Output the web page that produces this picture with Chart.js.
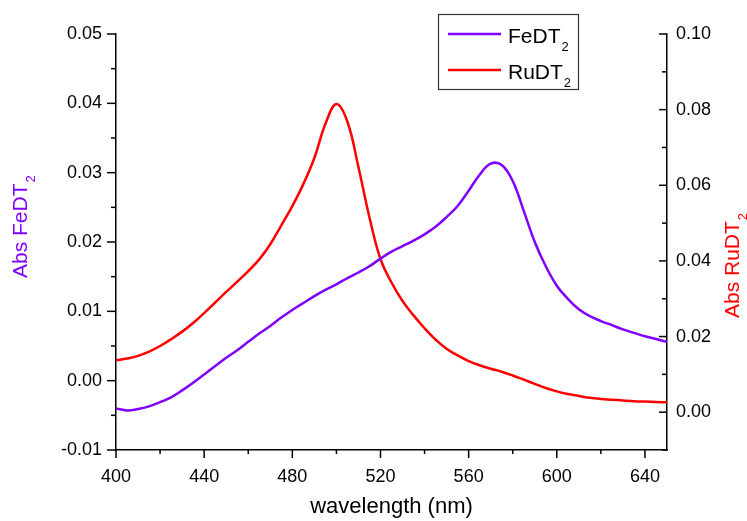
<!DOCTYPE html>
<html>
<head>
    <meta charset="UTF-8">
    <title>FeDT2 / RuDT2 absorbance</title>
    <script src="https://cdn.jsdelivr.net/npm/chart.js@4/dist/chart.umd.min.js"></script>
    <style>
        body { margin: 0; background: #fff; }
        #wrap { width: 747px; height: 521px; }
    </style>
</head>
<body>
<div id="wrap">
    <canvas id="absChart" width="747" height="521"></canvas>
</div>
<script>
    // wavelength grid (nm), every 5 nm
    var wavelengths = [400, 405, 410, 415, 420, 425, 430, 435, 440, 445,
        450, 455, 460, 465, 470, 475, 480, 485, 490, 495,
        500, 505, 510, 515, 520, 525, 530, 535, 540, 545,
        550, 555, 560, 565, 570, 575, 580, 585, 590, 595,
        600, 605, 610, 615, 620, 625, 630, 635, 640, 645, 650];

    // left axis
    var feValues = [-0.0040, -0.0043, -0.0041, -0.0037, -0.0031, -0.0024, -0.0014, -0.0003, 0.0009, 0.0021,
        0.0033, 0.0044, 0.0056, 0.0068, 0.0079, 0.0091, 0.0102, 0.0112, 0.0122, 0.0131,
        0.0139, 0.0148, 0.0156, 0.0165, 0.0176, 0.0186, 0.0194, 0.0202, 0.0211, 0.0222,
        0.0236, 0.0252, 0.0274, 0.0297, 0.0313, 0.0311, 0.0288, 0.0245, 0.0200, 0.0165,
        0.0137, 0.0118, 0.0103, 0.0093, 0.0086, 0.0080, 0.0074, 0.0069, 0.0064, 0.0060, 0.0056];

    // right axis
    var ruValues = [0.0137, 0.0142, 0.0149, 0.0160, 0.0175, 0.0193, 0.0213, 0.0236, 0.0262, 0.0290,
        0.0318, 0.0345, 0.0373, 0.0404, 0.0444, 0.0494, 0.0545, 0.0603, 0.0672, 0.0762,
        0.0815, 0.0768, 0.0648, 0.0515, 0.0405, 0.0343, 0.0294, 0.0256, 0.0222, 0.0192,
        0.0168, 0.0150, 0.0135, 0.0124, 0.0115, 0.0107, 0.0097, 0.0086, 0.0075, 0.0064,
        0.0055, 0.0048, 0.0043, 0.0038, 0.0035, 0.0033, 0.0031, 0.0029, 0.0028, 0.0027, 0.0026];

    var xTicks = [400, 440, 480, 520, 560, 600, 640];
    var xMinorTicks = [420, 460, 500, 540, 580, 620];
    var yLeftTicks = [-0.01, 0.00, 0.01, 0.02, 0.03, 0.04, 0.05];
    var yLeftMinorTicks = [-0.005, 0.005, 0.015, 0.025, 0.035, 0.045];
    var yRightTicks = [0.00, 0.02, 0.04, 0.06, 0.08, 0.10];
    var yRightMinorTicks = [-0.01, 0.01, 0.03, 0.05, 0.07, 0.09];

    var FE_COLOR = '#8000ff';
    var RU_COLOR = '#ff0000';
    var FONT = '"Liberation Sans", Arial, sans-serif';

    function toPoints(xs, ys) {
        return xs.map(function (x, i) { return {x: x, y: ys[i]}; });
    }

    function setTicks(list) {
        return function (scale) {
            scale.ticks = list.map(function (v) { return {value: v}; });
        };
    }

    // text with a subscript, drawn at (0,0) of the current transform
    function subText(ctx, main, sub, size) {
        ctx.textAlign = 'left';
        ctx.textBaseline = 'alphabetic';
        ctx.font = size + 'px ' + FONT;
        var w1 = ctx.measureText(main).width;
        ctx.fillText(main, 0, 0);
        ctx.font = Math.round(size * 0.62) + 'px ' + FONT;
        ctx.fillText(sub, w1 + 1, size * 0.38);
    }

    var decorations = {
        id: 'decorations',
        afterDraw: function (chart) {
            var ctx = chart.ctx;
            var xs = chart.scales.x, yl = chart.scales.y, yr = chart.scales.y1;
            var area = chart.chartArea;
            ctx.save();
            ctx.strokeStyle = '#000';
            ctx.lineWidth = 1.5;

            function tick(x1, y1, x2, y2) {
                ctx.beginPath();
                ctx.moveTo(x1, y1);
                ctx.lineTo(x2, y2);
                ctx.stroke();
            }
            xTicks.forEach(function (v) { var p = xs.getPixelForValue(v); tick(p, area.bottom, p, area.bottom + 8); });
            xMinorTicks.forEach(function (v) { var p = xs.getPixelForValue(v); tick(p, area.bottom, p, area.bottom + 4); });
            yLeftTicks.forEach(function (v) { var p = yl.getPixelForValue(v); tick(area.left, p, area.left - 9, p); });
            yLeftMinorTicks.forEach(function (v) { var p = yl.getPixelForValue(v); tick(area.left, p, area.left - 5, p); });
            yRightTicks.forEach(function (v) { var p = yr.getPixelForValue(v); tick(area.right, p, area.right - 8, p); });
            yRightMinorTicks.forEach(function (v) { var p = yr.getPixelForValue(v); tick(area.right, p, area.right - 5, p); });

            // axis titles
            ctx.fillStyle = '#000';
            ctx.font = '22px ' + FONT;
            ctx.textAlign = 'center';
            ctx.textBaseline = 'alphabetic';
            ctx.fillText('wavelength (nm)', (area.left + area.right) / 2, 513);

            ctx.save();
            ctx.translate(27, 278);
            ctx.rotate(-Math.PI / 2);
            ctx.fillStyle = FE_COLOR;
            subText(ctx, 'Abs FeDT', '2', 21);
            ctx.restore();

            ctx.save();
            ctx.translate(739, 318);
            ctx.rotate(-Math.PI / 2);
            ctx.fillStyle = RU_COLOR;
            subText(ctx, 'Abs RuDT', '2', 21);
            ctx.restore();

            // legend box
            ctx.strokeStyle = '#333';
            ctx.lineWidth = 1.2;
            ctx.strokeRect(438.5, 14.5, 140, 75);
            chart.data.datasets.forEach(function (ds, i) {
                var y = 34 + i * 36;
                ctx.strokeStyle = ds.borderColor;
                ctx.lineWidth = 2.5;
                tick(448, y, 501, y);
                ctx.save();
                ctx.translate(508, y + 9);
                ctx.fillStyle = '#000';
                subText(ctx, ds.label.slice(0, -1), ds.label.slice(-1), 21);
                ctx.restore();
            });
            ctx.restore();
        }
    };

    var ctx = document.getElementById('absChart').getContext('2d');
    var chart = new Chart(ctx, {
        type: 'line',
        data: {
            datasets: [{
                label: 'FeDT2',
                data: toPoints(wavelengths, feValues),
                borderColor: FE_COLOR,
                borderWidth: 2.5,
                pointRadius: 0,
                tension: 0.4,
                yAxisID: 'y'
            }, {
                label: 'RuDT2',
                data: toPoints(wavelengths, ruValues),
                borderColor: RU_COLOR,
                borderWidth: 2.5,
                pointRadius: 0,
                tension: 0.4,
                yAxisID: 'y1'
            }]
        },
        options: {
            responsive: false,
            animation: false,
            layout: {padding: {top: 34, left: 0, right: 0, bottom: 0}},
            plugins: {
                legend: {display: false},
                tooltip: {enabled: false}
            },
            scales: {
                x: {
                    type: 'linear',
                    min: 400,
                    max: 650,
                    afterBuildTicks: setTicks(xTicks),
                    afterFit: function (s) { s.height = 71; },
                    grid: {display: false, drawTicks: false},
                    border: {display: true, color: '#000', width: 1.5},
                    ticks: {
                        autoSkip: false,
                        maxRotation: 0,
                        padding: 16,
                        color: '#000',
                        font: {family: FONT, size: 18}
                    }
                },
                y: {
                    position: 'left',
                    min: -0.01,
                    max: 0.05,
                    afterBuildTicks: setTicks(yLeftTicks),
                    afterFit: function (s) { s.width = 116; },
                    grid: {display: false, drawTicks: false},
                    border: {display: true, color: '#000', width: 1.5},
                    ticks: {
                        autoSkip: false,
                        padding: 14,
                        color: '#000',
                        font: {family: FONT, size: 18},
                        callback: function (v) { return v.toFixed(2); }
                    }
                },
                y1: {
                    position: 'right',
                    min: -0.01,
                    max: 0.10,
                    afterBuildTicks: setTicks(yRightTicks),
                    afterFit: function (s) { s.width = 80; },
                    grid: {display: false, drawTicks: false},
                    border: {display: true, color: '#000', width: 1.5},
                    ticks: {
                        autoSkip: false,
                        padding: 9,
                        color: '#000',
                        font: {family: FONT, size: 18},
                        callback: function (v) { return v.toFixed(2); }
                    }
                }
            }
        },
        plugins: [decorations]
    });
</script>
</body>
</html>
